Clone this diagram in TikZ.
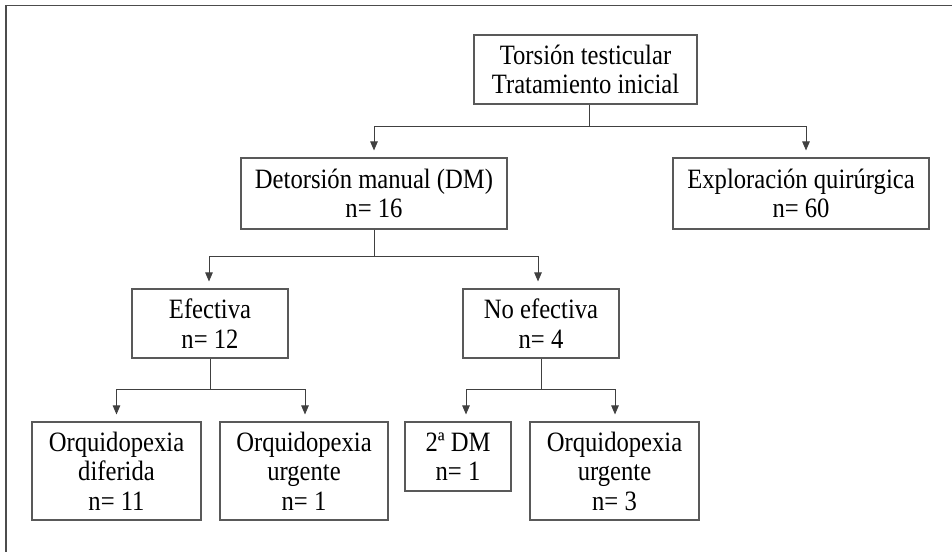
\documentclass[tikz,border=0pt]{standalone}
\usepackage{fontspec}
\setmainfont[FakeStretch=0.88]{Liberation Serif}
\usetikzlibrary{arrows.meta}
\begin{document}
\begin{tikzpicture}[x=1pt,y=-1pt,
  box/.style={draw=black!65,line width=1.1pt,inner sep=0pt,align=center,
    font=\fontsize{28}{29.5}\selectfont,text=black},
  link/.style={draw=black!75,line width=0.9pt},
  arr/.style={link,-{Triangle[length=9pt,width=7.5pt]},shorten >=7pt},
  frame/.style={draw=black!70,line width=1.4pt}]
\useasboundingbox (0,0) rectangle (952,552);
\coordinate (ftl) at (6,5.5);
\coordinate (ftr) at (952,5.5);
\coordinate (fbl) at (6,552);
\draw[frame] (ftr) -- (ftl) -- (fbl);

\node[box,minimum width=223pt,minimum height=69pt] (top) at (585.5,69.5) {Torsión testicular\\Tratamiento inicial};
\node[box,minimum width=266pt,minimum height=71pt] (dm) at (374,193.5) {Detorsión manual (DM)\\n= 16};
\node[box,minimum width=256pt,minimum height=71pt] (expl) at (801,193.5) {Exploración quirúrgica\\n= 60};
\node[box,minimum width=156pt,minimum height=69pt] (ef) at (210,323.5) {Efectiva\\n= 12};
\node[box,minimum width=156pt,minimum height=69pt] (nef) at (541,323.5) {No efectiva\\n= 4};
\node[box,minimum width=169pt,minimum height=98pt] (od) at (116.5,471) {Orquidopexia\\diferida\\n= 11};
\node[box,minimum width=168pt,minimum height=98pt] (ou1) at (304,471) {Orquidopexia\\urgente\\n= 1};
\node[box,minimum width=106pt,minimum height=69pt] (dm2) at (458,456.5) {2ª DM\\n= 1};
\node[box,minimum width=169pt,minimum height=98pt] (ou3) at (614.5,471) {Orquidopexia\\urgente\\n= 3};

% level 1
\coordinate (j1) at (589,126.5);
\draw[link] ([xshift=3.5pt]top.south) -- (j1);
\draw[arr] (j1) -| (dm.north);
\draw[arr] (j1) -| ([xshift=5pt]expl.north);
% level 2
\coordinate (j2) at (374,256);
\draw[link] (dm.south) -- (j2);
\draw[arr] (j2) -| ([xshift=-1pt]ef.north);
\draw[arr] (j2) -| ([xshift=-3pt]nef.north);
% level 3
\coordinate (j3) at (210,389);
\draw[link] (ef.south) -- (j3);
\draw[arr] (j3) -| (od.north);
\draw[arr] (j3) -| ([xshift=1pt]ou1.north);
\coordinate (j4) at (541,389);
\draw[link] (nef.south) -- (j4);
\draw[arr] (j4) -| ([xshift=8pt]dm2.north);
\draw[arr] (j4) -| ([xshift=0.5pt]ou3.north);
\end{tikzpicture}
\end{document}
